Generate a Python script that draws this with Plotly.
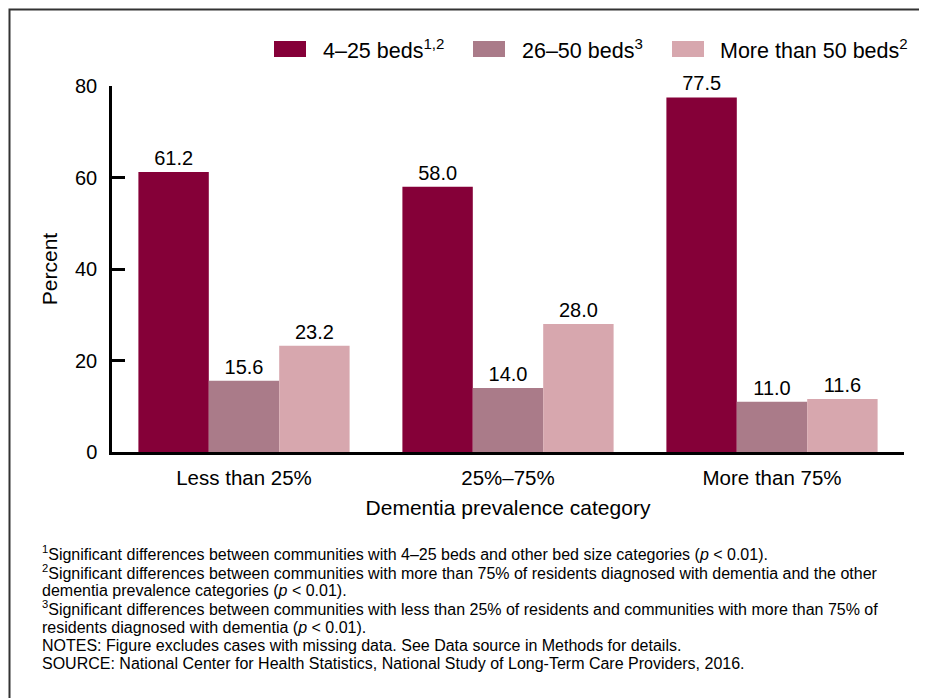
import plotly.graph_objects as go

categories = ["Less than 25%", "25%–75%", "More than 75%"]
series_names = ["4–25 beds<sup>1,2</sup>", "26–50 beds<sup>3</sup>", "More than 50 beds<sup>2</sup>"]
beds_4_25 = [61.2, 58.0, 77.5]
beds_26_50 = [15.6, 14.0, 11.0]
beds_50_plus = [23.2, 28.0, 11.6]
colors = ["#850038", "#AA7B89", "#D7A7AE"]
y_ticks = [0, 20, 40, 60, 80]

footnotes = [
    "<sup>1</sup>Significant differences between communities with 4–25 beds and other bed size categories (<i>p</i> < 0.01).",
    "<sup>2</sup>Significant differences between communities with more than 75% of residents diagnosed with dementia and the other",
    "dementia prevalence categories (<i>p</i> < 0.01).",
    "<sup>3</sup>Significant differences between communities with less than 25% of residents and communities with more than 75% of",
    "residents diagnosed with dementia (<i>p</i> < 0.01).",
    "NOTES: Figure excludes cases with missing data. See Data source in Methods for details.",
    "SOURCE: National Center for Health Statistics, National Study of Long-Term Care Providers, 2016.",
]

FONT = "Arial, 'Liberation Sans', sans-serif"
W, H = 927, 698
L, R, T, B = 104, 31, 78, 254
plot_w = W - L - R
plot_h = H - T - B

def px_x(x):
    return (x - L) / plot_w

def px_y(y):
    return (H - B - y) / plot_h

fig = go.Figure()
for name, vals, col in zip(series_names, [beds_4_25, beds_26_50, beds_50_plus], colors):
    fig.add_trace(go.Bar(
        x=categories, y=vals, name=name,
        marker=dict(color=col, line=dict(width=0)),
        texttemplate="%{y:.1f}", textposition="outside",
        textfont=dict(family=FONT, size=20, color="black"),
        cliponaxis=False, showlegend=False,
    ))

fig.update_layout(
    width=W, height=H,
    margin=dict(l=L, r=R, t=T, b=B),
    paper_bgcolor="white", plot_bgcolor="white",
    barmode="group", bargap=0.2, bargroupgap=0,
    font=dict(family=FONT, size=20, color="black"),
    showlegend=False,
    xaxis=dict(
        showline=True, linecolor="black", linewidth=2.5,
        ticks="", showgrid=False, zeroline=False,
        tickfont=dict(family=FONT, size=20.5),
        ticklabelstandoff=6,
        title=dict(text="Dementia prevalence category", font=dict(family=FONT, size=21), standoff=12),
    ),
    yaxis=dict(
        range=[0, 80], tickvals=y_ticks,
        showline=True, linecolor="black", linewidth=2.5,
        ticks="inside", ticklen=13, tickwidth=2.5, tickcolor="black",
        showgrid=False, zeroline=False,
        tickfont=dict(family=FONT, size=20),
        ticklabelstandoff=8,
        title=dict(text="Percent", font=dict(family=FONT, size=21), standoff=12),
    ),
)

# legend drawn as swatches + labels (pixel positions in figure coords)
swatch_x = [266, 465, 664]
label_x = [313, 512, 710]
for name, col, sx, lx in zip(series_names, colors, swatch_x, label_x):
    fig.add_shape(type="rect", xref="paper", yref="paper",
                  x0=px_x(sx), x1=px_x(sx + 32), y0=px_y(49), y1=px_y(33),
                  line=dict(width=0), fillcolor=col)
    fig.add_annotation(text=name, xref="paper", yref="paper",
                       x=px_x(lx), y=px_y(41), xanchor="left", yanchor="middle",
                       showarrow=False, font=dict(family=FONT, size=21.5, color="black"))

# outer frame (top and left visible; right/bottom run off the page)
fig.add_shape(type="rect", xref="paper", yref="paper",
              x0=px_x(1.5), x1=px_x(W + 20), y0=px_y(H + 20), y1=px_y(1.5),
              line=dict(color="#333333", width=2), fillcolor="rgba(0,0,0,0)", layer="below")

line_y = [545, 564, 582, 600, 619, 637, 655]
for txt, yy in zip(footnotes, line_y):
    fig.add_annotation(text=txt, xref="paper", yref="paper",
                       x=px_x(32), y=px_y(yy), xanchor="left", yanchor="middle",
                       showarrow=False, align="left",
                       font=dict(family=FONT, size=16, color="black"))

fig.write_html("out.html")
